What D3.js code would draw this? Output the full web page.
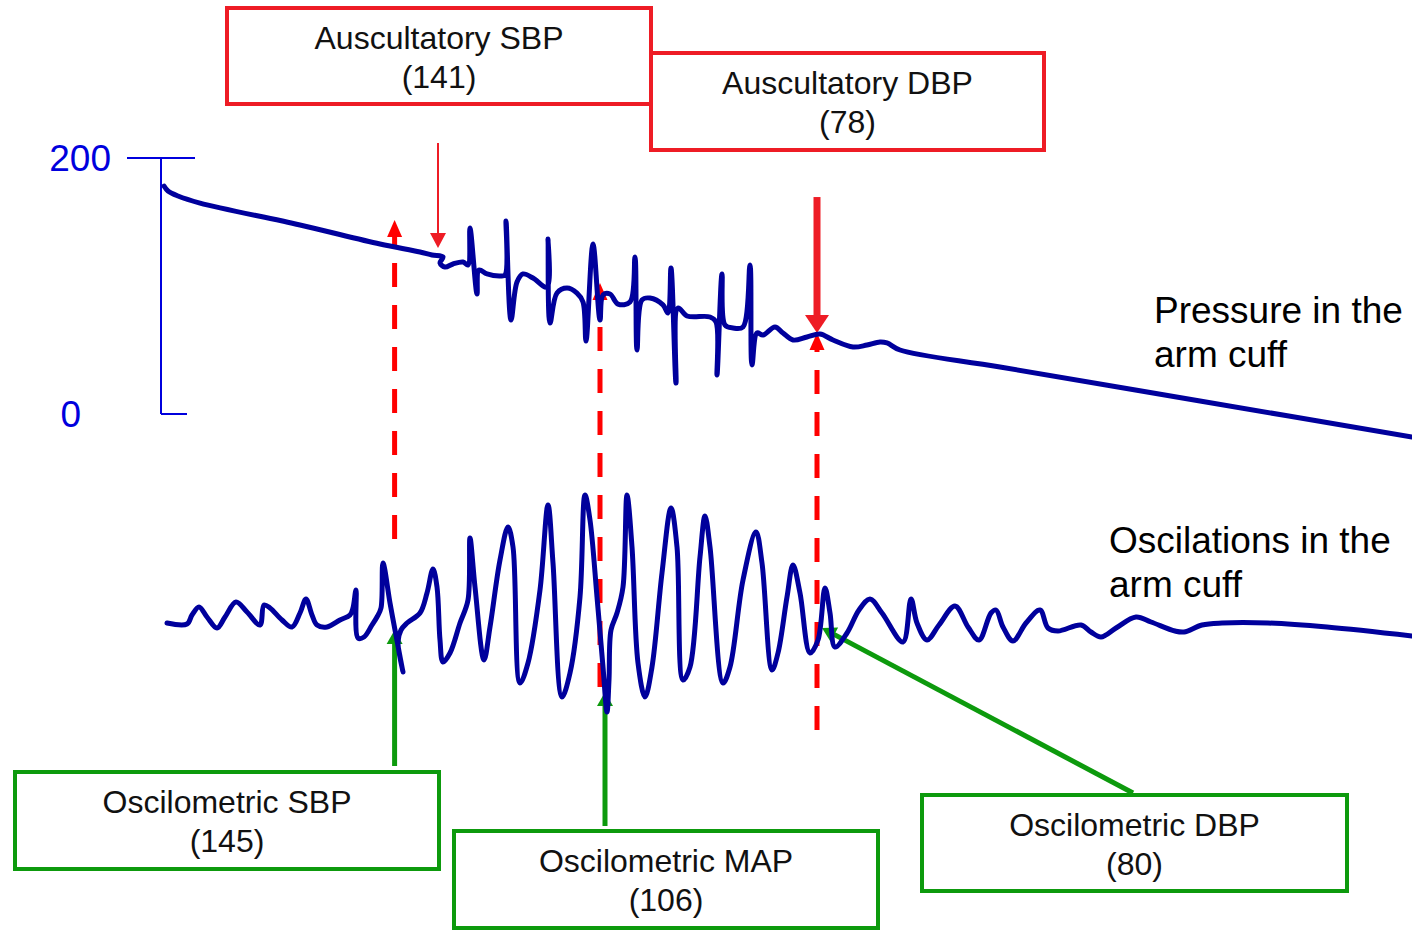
<!DOCTYPE html>
<html>
<head>
<meta charset="utf-8">
<script src="https://cdn.jsdelivr.net/npm/d3@7"></script>
<style>
  html, body { margin: 0; padding: 0; background: #ffffff; }
  svg { display: block; font-family: "Liberation Sans", Arial, sans-serif; }
</style>
</head>
<body>
<svg id="chart" width="1412" height="931"></svg>
<script>
// Cuff pressure during deflation: time (s) and pressure (mmHg)
const pressureTime = [0.2, 0.4, 0.9, 2.0, 7.0, 11.0, 13.0, 13.6, 14.15, 14.0, 14.25, 14.65, 15.15, 15.4,
  15.5, 15.85, 15.95, 16.35, 17.0, 17.25, 17.3, 17.55, 17.85, 18.15, 18.65, 19.35, 19.4, 19.5, 19.85,
  20.35, 20.85, 21.15, 21.3, 21.65, 22.0, 22.15, 22.5, 22.9, 23.5, 23.75, 23.85, 24.1, 24.5, 25.15,
  25.4, 25.55, 25.8, 25.9, 26.35, 27.5, 27.8, 27.85, 28.1, 28.25, 28.65, 29.15, 29.5, 29.6, 29.85,
  30.15, 30.75, 31.15, 31.65, 32.35, 33.0, 33.65, 34.65, 35.35, 36.0, 36.35, 37.0, 42.0, 52.0, 62.6];
const pressureValue = [178.1, 174.2, 170.3, 164.8, 147.7, 132.8, 126.6, 124.2, 122.7, 118.0, 114.8, 117.2, 118.75, 116.4,
  145.3, 93.75, 112.5, 109.4, 107.8, 108.6, 150.8, 73.4, 103.1, 109.4, 106.25, 99.2, 136.7, 71.1, 94.5,
  98.4, 94.5, 87.5, 57.0, 132.8, 73.4, 93.0, 93.75, 85.9, 87.5, 122.7, 50.0, 89.1, 90.6, 85.2,
  78.9, 114.1, 24.2, 82.8, 76.6, 75.8, 71.9, 30.5, 109.4, 69.5, 67.2, 68.0, 116.4, 38.3, 63.3,
  61.7, 68.0, 63.3, 57.8, 60.2, 62.5, 57.8, 52.3, 53.9, 56.25, 55.5, 50.0, 36.7, 10.2, -18.0];

// Oscillations in the cuff: time (s) and oscillation amplitude (mmHg)
const oscTime = [0.35, 1.35, 1.6, 1.95, 2.35, 2.85, 3.25, 3.8, 4.35, 5.0, 5.2, 5.5, 6.1, 6.6, 7.0, 7.3,
  7.6, 7.85, 8.35, 9.0, 9.5, 9.65, 9.8, 9.9, 10.2, 10.6, 10.85, 11.05, 11.15, 11.5, 11.75, 12.15,
  11.9, 12.05, 12.35, 13.0, 13.35, 13.65, 13.85, 14.0, 14.15, 14.5, 15.0, 15.4, 15.5, 15.75, 16.2,
  16.5, 17.0, 17.4, 17.65, 18.0, 18.4, 19.0, 19.4, 19.65, 20.1, 20.5, 21.0, 21.25, 21.5, 21.85,
  22.15, 22.35, 22.45, 22.55, 22.85, 23.15, 23.35, 23.6, 23.9, 24.25, 24.6, 25.1, 25.55, 25.85,
  26.15, 26.5, 27.0, 27.25, 27.5, 28.15, 28.5, 29.15, 29.8, 30.1, 30.6, 30.9, 31.35, 31.65, 32.0,
  32.5, 32.9, 33.25, 33.5, 33.75, 34.35, 34.95, 35.5, 36.1, 37.15, 37.55, 37.85, 38.35, 38.95,
  39.75, 40.4, 40.95, 41.55, 41.8, 42.15, 42.65, 43.3, 44.0, 44.4, 44.9, 46.05, 46.55, 47.05,
  47.8, 48.8, 49.55, 50.75, 51.2, 52.1, 53.1, 55.4, 58.35, 62.6];
const oscValue = [0.1, 0.05, 0.5, 0.9, 0.4, -0.15, 0.4, 1.15, 0.65, 0, 1.0, 0.85, 0.25, -0.1, 0.6, 1.3,
  0.5, 0, -0.1, 0.25, 0.5, 0.85, 1.75, -0.65, -0.6, 0, 0.4, 0.85, 3.1, 1.1, -0.25, -2.35,
  -0.85, -0.25, 0.1, 0.6, 1.6, 2.8, 1.9, -0.75, -1.85, -1.4, 0.1, 1.25, 4.35, 1.9, -1.75,
  -0.1, 3.25, 4.9, 3.9, -2.9, -1.9, 1.75, 6.0, 3.1, -3.6, -2.4, 1.4, 6.5, 5.25, 1.4,
  -2.1, -4.35, -2.75, -0.25, 0.6, 1.9, 6.5, 3.9, -1.9, -3.6, -2.1, 2.6, 5.85, 3.9,
  -2.75, -2.1, 3.4, 5.45, 3.9, -2.9, -2.1, 2.25, 4.65, 3.1, -2.25, -1.4, 1.4, 3.0, 1.6,
  -1.4, -0.75, 1.85, 0.6, -1.1, -0.4, 0.75, 1.3, 0.6, -0.85, 1.3, 0.1, -0.75, 0,
  0.95, -0.1, -0.75, 0.6, 0.75, -0.1, -0.8, 0.1, 0.75, -0.15, -0.3, 0, -0.35, -0.6,
  -0.15, 0.4, 0.15, -0.3, -0.35, 0, 0.1, 0.1, -0.1, -0.55];

// Pressure scale ticks
const axisTicks = [0, 200];

// Auscultatory readings (Korotkoff sounds): label, value, time of reading (s)
const auscLabels = ["Auscultatory SBP", "Auscultatory DBP"];
const auscValues = [141, 78];
const auscTimes = [13.9, 32.85];

// Oscillometric readings: label, value, time of reading (s)
const oscLabels = ["Oscilometric SBP", "Oscilometric MAP", "Oscilometric DBP"];
const oscValues = [145, 106, 80];
const oscTimes = [11.73, 22.0, 32.85];

// Trace captions
const traceCaptions = [["Pressure in the", "arm cuff"], ["Oscilations in the", "arm cuff"]];

const svg = d3.select("#chart");

const x = d3.scaleLinear().domain([0, 62.6]).range([160, 1412]);
const yP = d3.scaleLinear().domain([0, 200]).range([414, 158]);
const yO = d3.scaleLinear().domain([-5, 5]).range([725, 525]);

const BLUE = "#00009c";
const AXIS = "#0000dd";
const RED = "#ee1c25";
const DASH_RED = "#ff0000";
const GREEN = "#0d9a0d";

// Draws a straight line ending in a filled triangular head at (x2, y2)
function arrow(g, x1, y1, x2, y2, color, width, headW, headL, dash) {
  const dx = x2 - x1, dy = y2 - y1, len = Math.hypot(dx, dy);
  const ux = dx / len, uy = dy / len;
  const bx = x2 - ux * headL, by = y2 - uy * headL;
  g.append("line")
    .attr("x1", x1).attr("y1", y1).attr("x2", bx + ux).attr("y2", by + uy)
    .attr("stroke", color).attr("stroke-width", width)
    .attr("stroke-dasharray", dash || null);
  const px = -uy, py = ux;
  g.append("path")
    .attr("d", `M${x2},${y2}L${bx + px * headW / 2},${by + py * headW / 2}L${bx - px * headW / 2},${by - py * headW / 2}Z`)
    .attr("fill", color);
}

// Pressure scale
const axisG = svg.append("g");
const axisX = x(0) + 1;
axisG.append("line")
  .attr("x1", axisX).attr("x2", axisX)
  .attr("y1", yP(axisTicks[1])).attr("y2", yP(axisTicks[0]))
  .attr("stroke", AXIS).attr("stroke-width", 2);
axisG.append("line")
  .attr("x1", axisX - 34).attr("x2", axisX + 34)
  .attr("y1", yP(axisTicks[1])).attr("y2", yP(axisTicks[1]))
  .attr("stroke", AXIS).attr("stroke-width", 2);
axisG.append("line")
  .attr("x1", axisX).attr("x2", axisX + 26)
  .attr("y1", yP(axisTicks[0])).attr("y2", yP(axisTicks[0]))
  .attr("stroke", AXIS).attr("stroke-width", 2);
axisG.selectAll("text").data(axisTicks).join("text")
  .attr("x", d => d === 0 ? 81 : 111)
  .attr("y", d => yP(d) + 13)
  .attr("text-anchor", "end")
  .attr("font-size", 37)
  .attr("fill", AXIS)
  .text(d => d);

// Dashed guides linking the two traces
const guides = svg.append("g");
const guideSpecs = [
  { t: oscTimes[0], top: yP(151.6), bottom: yO(4.3) },
  { t: oscTimes[1], top: yP(102.3), bottom: yO(-3.1) },
  { t: oscTimes[2], top: yP(63.3), bottom: yO(-5.25) }
];
guideSpecs.forEach(s => {
  arrow(guides, x(s.t), s.bottom, x(s.t), s.top, DASH_RED, 5, 15, 17, "24,18");
});

// Callout box with a two-line label
function callout(g, b, label, value, color) {
  g.append("rect").attr("x", b.x).attr("y", b.y).attr("width", b.w).attr("height", b.h)
    .attr("fill", "none").attr("stroke", color).attr("stroke-width", 4);
  const tx = g.append("text").attr("text-anchor", "middle").attr("font-size", 32).attr("fill", "#111");
  tx.append("tspan").attr("x", b.x + b.w / 2).attr("y", b.y + 41).text(label);
  tx.append("tspan").attr("x", b.x + b.w / 2).attr("y", b.y + 80).text(`(${value})`);
}

// Oscillometric callouts
const green = svg.append("g");
const oscBoxes = [
  { x: 15, y: 772, w: 424, h: 97 },
  { x: 454, y: 831, w: 424, h: 97 },
  { x: 922, y: 795, w: 425, h: 96 }
];
const oscTips = [
  { t: oscTimes[0], a: -0.25, tail: [x(oscTimes[0]), 766] },
  { t: 22.25, a: -3.35, tail: [x(22.25), 826] },
  { t: 33.1, a: -0.15, tail: [1133, 793] }
];
oscTips.forEach(s => {
  arrow(green, s.tail[0], s.tail[1], x(s.t), yO(s.a), GREEN, 5, 16, 14);
});
oscBoxes.forEach((b, i) => callout(green, b, oscLabels[i], oscValues[i], GREEN));

// Auscultatory callouts
const red = svg.append("g");
const auscBoxes = [
  { x: 227, y: 8, w: 424, h: 96 },
  { x: 651, y: 53, w: 393, h: 97 }
];
auscBoxes.forEach((b, i) => callout(red, b, auscLabels[i], auscValues[i], RED));
arrow(red, x(auscTimes[0]), yP(211.7), x(auscTimes[0]), yP(129.7), RED, 2, 16, 15);
arrow(red, x(auscTimes[1]), yP(169.5), x(auscTimes[1]), yP(63.3), RED, 7, 24, 18);

// Traces
const line = d3.line().curve(d3.curveCatmullRom.alpha(0.5));
svg.append("path")
  .attr("d", line(pressureTime.map((t, i) => [x(t), yP(pressureValue[i])])))
  .attr("fill", "none").attr("stroke", BLUE).attr("stroke-width", 5)
  .attr("stroke-linejoin", "round").attr("stroke-linecap", "round");
svg.append("path")
  .attr("d", line(oscTime.map((t, i) => [x(t), yO(oscValue[i])])))
  .attr("fill", "none").attr("stroke", BLUE).attr("stroke-width", 5)
  .attr("stroke-linejoin", "round").attr("stroke-linecap", "round");

// Trace captions
const captionPos = [{ x: 1154, y: 323 }, { x: 1109, y: 553 }];
traceCaptions.forEach((lines, i) => {
  const tx = svg.append("text").attr("font-size", 37).attr("fill", "#000");
  lines.forEach((s, j) => {
    tx.append("tspan").attr("x", captionPos[i].x).attr("y", captionPos[i].y + j * 44).text(s);
  });
});
</script>
</body>
</html>
